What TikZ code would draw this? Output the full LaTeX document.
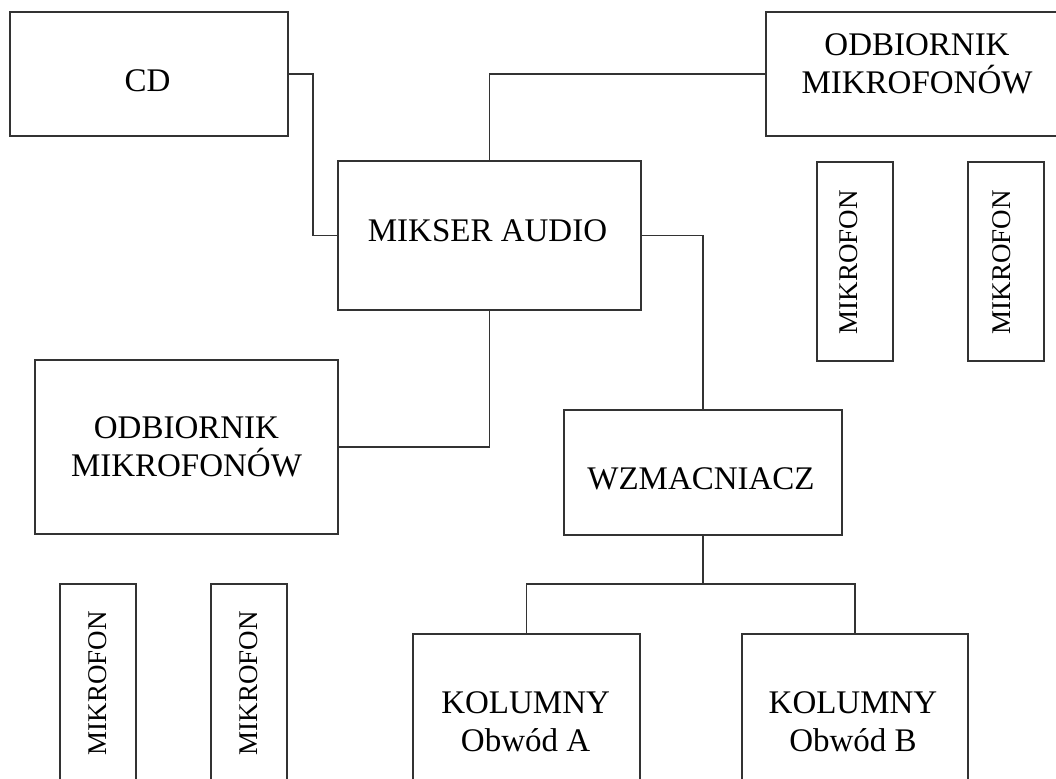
\documentclass[tikz,border=0pt]{standalone}
\usepackage{fontspec}
\setmainfont{Liberation Serif}
\begin{document}
\begin{tikzpicture}[x=1pt,y=-1pt,
  box/.style={draw=black!80, line width=1.3pt, rectangle, inner sep=0pt, fill=none},
  wire/.style={draw=black!80, line width=1.3pt},
  txt/.style={inner sep=0pt, align=center, font=\fontsize{33}{38}\selectfont},
  mictxt/.style={inner sep=0pt, rotate=90, font=\fontsize{27}{32}\selectfont}]
\useasboundingbox (0,0) rectangle (1056,778);
\clip (0,0) rectangle (1056,778);
\fill[white] (0,0) rectangle (1056,778);
% boxes
\node[box, minimum width=278pt, minimum height=124pt] (cd) at (149,74) {};
\node[box, minimum width=302pt, minimum height=124pt] (odbR) at (917,74) {};
\node[box, minimum width=303pt, minimum height=149pt] (mik) at (489.5,235.5) {};
\node[box, minimum width=76pt, minimum height=199pt] (micR1) at (855,261.5) {};
\node[box, minimum width=76pt, minimum height=199pt] (micR2) at (1006,261.5) {};
\node[box, minimum width=303pt, minimum height=174pt] (odbL) at (186.5,447) {};
\node[box, minimum width=278pt, minimum height=125pt] (wzm) at (703,472.5) {};
\node[box, minimum width=76pt, minimum height=199pt] (micL1) at (98,683.5) {};
\node[box, minimum width=76pt, minimum height=199pt] (micL2) at (249,683.5) {};
\node[box, minimum width=227pt, minimum height=150pt] (kolA) at (526.5,709) {};
\node[box, minimum width=226pt, minimum height=150pt] (kolB) at (855,709) {};
% texts
\node[txt, anchor=base] (cdT) at (147.5,92) {CD};
\node[txt] (odbRT) at (917,63.5) {ODBIORNIK\\MIKROFONÓW};
\node[txt, anchor=base] (mikT) at (487.5,241) {MIKSER AUDIO};
\node[mictxt] (micR1T) at (849,262) {MIKROFON};
\node[mictxt] (micR2T) at (1002,262) {MIKROFON};
\node[txt] (odbLT) at (186.5,447) {ODBIORNIK\\MIKROFONÓW};
\node[txt, anchor=base] (wzmT) at (701,489) {WZMACNIACZ};
\node[mictxt] (micL1T) at (98,683) {MIKROFON};
\node[mictxt] (micL2T) at (249,683) {MIKROFON};
\node[txt] (kolAT) at (525.6,721.5) {KOLUMNY\\Obwód A};
\node[txt] (kolBT) at (853,721.5) {KOLUMNY\\Obwód B};
% connectors
\coordinate (j1) at (313,74);
\coordinate (j2) at (703,584);
\draw[wire] (cd.east) -- (j1) |- (mik.west);
\draw[wire] (mik.north) |- (odbR.west);
\draw[wire] (mik.east) -| (wzm.north);
\draw[wire] (mik.south) |- (odbL.east);
\draw[wire] (wzm.south) -- (j2);
\draw[wire] (kolA.north) |- (j2) -| (kolB.north);
\end{tikzpicture}
\end{document}
